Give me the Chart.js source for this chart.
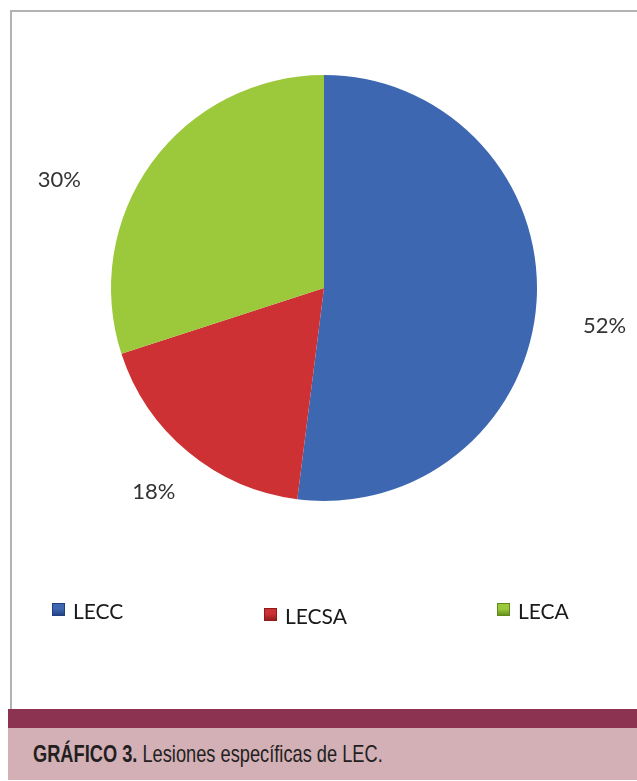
<!DOCTYPE html>
<html>
<head>
<meta charset="utf-8">
<script src="https://cdn.jsdelivr.net/npm/chart.js@4/dist/chart.umd.min.js"></script>
<style>
  html, body { margin: 0; padding: 0; background: #ffffff; }
  body { width: 637px; height: 781px; position: relative; overflow: hidden; }
  #frame {
    position: absolute; left: 10px; top: 10px; width: 640px; height: 700px;
    border-left: 2px solid #b3b3b3; border-top: 2px solid #b3b3b3;
    box-sizing: border-box;
  }
  #chartWrap { position: absolute; left: 0; top: 0; width: 637px; height: 708px; }
  #band { position: absolute; left: 8px; top: 709px; width: 629px; height: 19px; background: #8b3350; }
  #caption {
    position: absolute; left: 8px; top: 728px; width: 629px; height: 52px; background: #d2b0b6;
  }
  #caption span.txt {
    position: absolute; left: 25px; top: 12px; white-space: nowrap;
    font-family: "Liberation Sans Narrow", "Liberation Sans", sans-serif;
    font-size: 24px; color: #231f20;
    transform: scaleX(0.76); transform-origin: 0 0;
  }
  #caption b { font-weight: bold; }
  .leg { position: absolute; font-family: Lato, "Open Sans", sans-serif; font-size: 21px; color: #1a1a1a; white-space: nowrap; }
  .leg i {
    position: absolute; left: 0; width: 13px; height: 13px; display: block;
  }
</style>
</head>
<body>
<div id="frame"></div>
<div id="chartWrap"><canvas id="pie" width="637" height="708"></canvas></div>
<div id="legend"></div>
<div id="band"></div>
<div id="caption"><span class="txt"><b>GRÁFICO 3.</b> Lesiones específicas de LEC.</span></div>
<script>
// Lesion categories and their shares (%)
const categories = ["LECC", "LECSA", "LECA"];
const shares = [52, 18, 30];
const sliceColors = ["#3e67b1", "#cd3133", "#9cc83b"];
const markerDark = ["#1f3f80", "#8e1a1c", "#5e8a1c"];

// Percentage labels outside the slices, placed along each slice's mid-angle
const outsideLabels = {
  id: "outsideLabels",
  afterDatasetsDraw(chart, args, opts) {
    const ctx = chart.ctx;
    const meta = chart.getDatasetMeta(0);
    ctx.save();
    ctx.font = opts.font;
    ctx.fillStyle = opts.color;
    ctx.textAlign = "center";
    ctx.textBaseline = "middle";
    meta.data.forEach((arc, i) => {
      const mid = (arc.startAngle + arc.endAngle) / 2;
      const d = arc.outerRadius + opts.gap;
      const nudge = opts.nudge[i] || [0, 0];
      const x = arc.x + Math.cos(mid) * d + nudge[0];
      const y = arc.y + Math.sin(mid) * d + nudge[1];
      ctx.fillText(chart.data.datasets[0].data[i] + "%", x, y);
    });
    ctx.restore();
  }
};

const chart = new Chart(document.getElementById("pie"), {
  type: "pie",
  data: {
    labels: categories,
    datasets: [{
      data: shares,
      backgroundColor: sliceColors,
      borderWidth: 0
    }]
  },
  options: {
    responsive: false,
    animation: false,
    rotation: 0,
    layout: { padding: { left: 111, right: 100, top: 75, bottom: 207 } },
    plugins: {
      legend: { display: false },
      tooltip: { enabled: false },
      outsideLabels: {
        font: '22px Lato, "Open Sans", sans-serif',
        color: "#333333",
        gap: 40,
        nudge: [[28, 22], [-9, 9], [-60, 41]]
      }
    }
  },
  plugins: [outsideLabels]
});

// Legend row with bevelled square markers
const legendSpots = [[52, 598], [264, 603], [497, 598]];
const legend = document.getElementById("legend");
categories.forEach((name, i) => {
  const item = document.createElement("div");
  item.className = "leg";
  item.style.left = legendSpots[i][0] + "px";
  item.style.top = legendSpots[i][1] + "px";
  const box = document.createElement("i");
  box.style.top = "5px";
  box.style.background =
    "linear-gradient(180deg, " + sliceColors[i] + " 0%, " + sliceColors[i] + " 45%, " + markerDark[i] + " 100%)";
  box.style.boxShadow = "inset 0 0 0 1px " + markerDark[i];
  const label = document.createElement("span");
  label.style.marginLeft = "21px";
  label.textContent = chart.data.labels[i];
  item.appendChild(box);
  item.appendChild(label);
  legend.appendChild(item);
});
</script>
</body>
</html>
